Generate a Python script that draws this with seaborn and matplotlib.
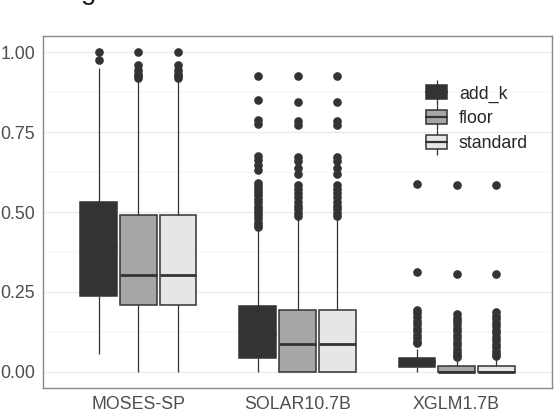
import matplotlib
matplotlib.use("Agg")
import matplotlib.pyplot as plt
import pandas as pd
import seaborn as sns
from matplotlib.lines import Line2D
from matplotlib.patches import Patch, Rectangle
from matplotlib.legend_handler import HandlerTuple

models = ["MOSES-SP", "SOLAR10.7B", "XGLM1.7B"]
methods = ["add_k", "floor", "standard"]
fills = ["#333333", "#A6A6A6", "#E6E6E6"]

# box stats: lower whisker, q1, median, q3, upper whisker
moses_add_k = [0.057, 0.236, 0.39, 0.530, 0.95]
moses_floor = [0.0, 0.208, 0.303, 0.491, 0.912]
moses_standard = [0.0, 0.208, 0.303, 0.491, 0.912]
solar_add_k = [0.0, 0.044, 0.12, 0.207, 0.44]
solar_floor = [0.0, 0.0, 0.086, 0.195, 0.48]
solar_standard = [0.0, 0.0, 0.086, 0.195, 0.48]
xglm_add_k = [0.0, 0.0146, 0.03, 0.0446, 0.071]
xglm_floor = [0.0, 0.0, 0.0, 0.0187, 0.045]
xglm_standard = [0.0, 0.0, 0.0, 0.0187, 0.045]

# outliers
moses_add_k_out = [0.976, 1.0]
moses_floor_out = [0.92, 0.925, 0.93, 0.945, 0.96, 1.0]
moses_standard_out = [0.92, 0.925, 0.93, 0.945, 0.96, 1.0]
solar_add_k_out = [0.926, 0.85, 0.787, 0.775, 0.675, 0.663, 0.648, 0.632,
                   0.592, 0.582, 0.572, 0.561, 0.552, 0.541, 0.53, 0.52,
                   0.51, 0.5, 0.49, 0.481, 0.47, 0.46, 0.452]
solar_floor_out = [0.926, 0.844, 0.784, 0.772, 0.672, 0.66, 0.636, 0.618,
                   0.584, 0.572, 0.56, 0.548, 0.532, 0.52, 0.508, 0.496, 0.488]
solar_standard_out = [0.926, 0.844, 0.784, 0.772, 0.672, 0.66, 0.636, 0.618,
                      0.584, 0.572, 0.56, 0.548, 0.532, 0.52, 0.508, 0.496, 0.488]
xglm_add_k_out = [0.587, 0.311, 0.194, 0.183, 0.171, 0.16, 0.149, 0.138,
                  0.127, 0.116, 0.105, 0.095, 0.09]
xglm_floor_out = [0.585, 0.307, 0.181, 0.17, 0.16, 0.149, 0.138, 0.127,
                  0.116, 0.105, 0.094, 0.083, 0.072, 0.061, 0.052, 0.048]
xglm_standard_out = [0.585, 0.307, 0.187, 0.176, 0.165, 0.154, 0.143, 0.132,
                     0.121, 0.11, 0.099, 0.088, 0.077, 0.066, 0.056, 0.05]

stats = {
    ("MOSES-SP", "add_k"): (moses_add_k, moses_add_k_out),
    ("MOSES-SP", "floor"): (moses_floor, moses_floor_out),
    ("MOSES-SP", "standard"): (moses_standard, moses_standard_out),
    ("SOLAR10.7B", "add_k"): (solar_add_k, solar_add_k_out),
    ("SOLAR10.7B", "floor"): (solar_floor, solar_floor_out),
    ("SOLAR10.7B", "standard"): (solar_standard, solar_standard_out),
    ("XGLM1.7B", "add_k"): (xglm_add_k, xglm_add_k_out),
    ("XGLM1.7B", "floor"): (xglm_floor, xglm_floor_out),
    ("XGLM1.7B", "standard"): (xglm_standard, xglm_standard_out),
}


def sample(box, out):
    # raw values whose quartiles / whiskers reproduce the box stats
    lo, q1, med, q3, hi = box
    return [lo] + [q1] * 100 + [med] * 100 + [q3] * 100 + [hi] + list(out)


rows = []
for (m, meth), (box, out) in stats.items():
    for v in sample(box, out):
        rows.append((m, meth, v))
df = pd.DataFrame(rows, columns=["model", "method", "value"])

sns.set_style("white")
plt.rcParams["font.family"] = ["Liberation Sans", "DejaVu Sans"]

fig = plt.figure(figsize=(5.54, 4.12), dpi=100)
ax = fig.add_axes([43 / 554, 24 / 412, 509 / 554, 352 / 412])

ax.set_yticks([0.125, 0.375, 0.625, 0.875], minor=True)
ax.grid(True, which="major", color="#EBEBEB", lw=1.0, zorder=0)
ax.grid(True, which="minor", axis="y", color="#F4F4F4", lw=0.6, zorder=0)
ax.set_axisbelow(True)

# white legend background covering the grid
ax.add_patch(Rectangle((415 / 554, (412 - 168) / 412), 122 / 554, 124 / 412,
                       transform=fig.transFigure, facecolor="white",
                       edgecolor="none", zorder=0.5))

sns.boxplot(data=df, x="model", y="value", hue="method", order=models,
            hue_order=methods, palette=fills, width=0.75, gap=0.08,
            linecolor="#333333", linewidth=1.1, showcaps=False,
            whiskerprops=dict(linewidth=0.9),
            medianprops=dict(linewidth=2.0),
            flierprops=dict(marker="o", markersize=5.2,
                            markerfacecolor="#333333",
                            markeredgecolor="#333333"),
            legend=False, ax=ax)

ax.set_xlim(-0.6, 2.6)
ax.set_ylim(-0.05, 1.05)
ax.set_yticks([0, 0.25, 0.5, 0.75, 1.0])
ax.set_yticklabels(["0.00", "0.25", "0.50", "0.75", "1.00"])
ax.set_xlabel("")
ax.set_ylabel("")
ax.tick_params(axis="both", which="major", length=3.5, width=0.8,
               color="#333333", labelcolor="#4D4D4D", labelsize=12.8, pad=2)
ax.tick_params(axis="y", which="minor", length=0)
for s in ax.spines.values():
    s.set_color("#888888")
    s.set_linewidth(1.0)

handles = []
for c in fills:
    handles.append((Line2D([], [], color="#333333", marker="|", markersize=18,
                           markeredgewidth=0.9, linestyle="none"),
                    Patch(facecolor=c, edgecolor="#333333", linewidth=1.1),
                    Line2D([], [], color="#333333", lw=1.6)))
ax.legend(handles, methods,
          handler_map={tuple: HandlerTuple(ndivide=1, pad=0)},
          loc="center left", bbox_to_anchor=(426 / 554, (412 - 118.7) / 412),
          bbox_transform=fig.transFigure, frameon=False, fontsize=12.8,
          handlelength=1.2, handleheight=0.85, labelspacing=0.42,
          handletextpad=0.65, borderpad=0, borderaxespad=0)

# clipped fragment of text above the chart
fig.text(89 / 554, 1.0 + 1 / 412, "g", ha="center", va="baseline",
         fontsize=20, color="#1A1A1A")

fig.savefig("out.png", dpi=100)
